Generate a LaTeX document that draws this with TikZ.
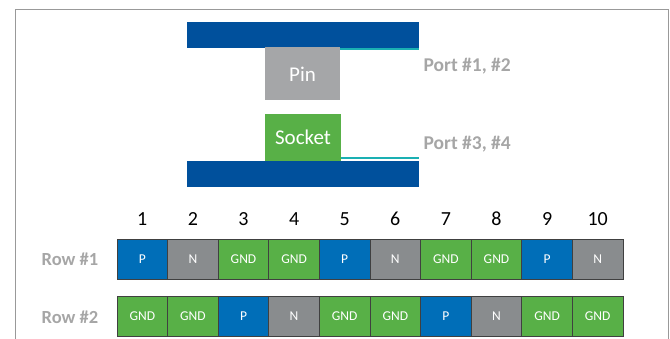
\documentclass[tikz,border=0pt]{standalone}
\usepackage{fontspec}
\setmainfont{Carlito}
\definecolor{barblue}{HTML}{00509C}
\definecolor{cellblue}{HTML}{006EB8}
\definecolor{cellgray}{HTML}{898C8E}
\definecolor{pingray}{HTML}{A5A6A8}
\definecolor{cellgreen}{HTML}{58B047}
\definecolor{lblgray}{HTML}{A6A6A6}
\definecolor{framegray}{HTML}{999999}
\definecolor{cyanline}{HTML}{1AB0B3}
\begin{document}
\begin{tikzpicture}[x=1pt,y=-1pt,
  cell/.style={draw=black!75,line width=0.8pt,minimum width=50.6pt,minimum height=40pt,inner sep=0pt,text=white,font=\fontsize{13.5}{13}\selectfont},
  P/.style={cell,fill=cellblue},
  N/.style={cell,fill=cellgray},
  G/.style={cell,fill=cellgreen},
  rowlbl/.style={text=lblgray,font=\fontsize{18.5}{18}\selectfont\bfseries},
  portlbl/.style={text=lblgray,font=\fontsize{19.5}{18}\selectfont\bfseries,anchor=west},
  numlbl/.style={font=\fontsize{20}{20}\selectfont},
  bar/.style={fill=barblue,draw=none,inner sep=0pt,minimum width=232pt,minimum height=26pt},
  conn/.style={draw=none,inner sep=0pt,text=white,font=\fontsize{21}{21}\selectfont},
  port/.style={cyanline,line width=2pt}]
\useasboundingbox (0,0) rectangle (670,339);
\draw[framegray,line width=1.5pt] (15.5,339) -- (15.5,9.5) -- (668.5,9.5) -- (668.5,339);
% top assembly
\node[bar] (topbar) at (303,35) {};
\node[conn,fill=pingray,minimum width=75pt,minimum height=53pt,text depth=0pt] (pin) at (302.5,73.5) {\raisebox{-2pt}{Pin}};
\coordinate (tp1) at (pin.north east |- 0,49.5);
\coordinate (tp2) at (topbar.east |- 0,49.5);
\draw[port] (tp1) -- (tp2);
\node[portlbl] (port12) at (420,66) {Port \#1, \#2};
% bottom assembly
\node[bar] (botbar) at (303,174) {};
\node[conn,fill=cellgreen,minimum width=76pt,minimum height=47pt] (sock) at (303,137.5) {Socket};
\coordinate (bp1) at (sock.south east |- 0,158.5);
\coordinate (bp2) at (botbar.east |- 0,158.5);
\draw[port] (bp1) -- (bp2);
\node[portlbl] (port34) at (420,144) {Port \#3, \#4};
% rows
\node[rowlbl] (r1) at (70,259) {Row \#1};
\node[rowlbl] (r2) at (70,317) {Row \#2};
\foreach \s/\t [count=\i] in {P/P,N/N,G/GND,G/GND,P/P,N/N,G/GND,G/GND,P/P,N/N}{
  \pgfmathsetmacro{\xx}{117+50.6*(\i-0.5)}
  \node[numlbl] (n\i) at (\xx,219) {\i};
  \node[\s] (a\i) at (\xx,259) {\t};
}
\foreach \s/\t [count=\i] in {G/GND,G/GND,P/P,N/N,G/GND,G/GND,P/P,N/N,G/GND,G/GND}{
  \pgfmathsetmacro{\xx}{117+50.6*(\i-0.5)}
  \node[\s] (b\i) at (\xx,316) {\t};
}
\end{tikzpicture}
\end{document}
